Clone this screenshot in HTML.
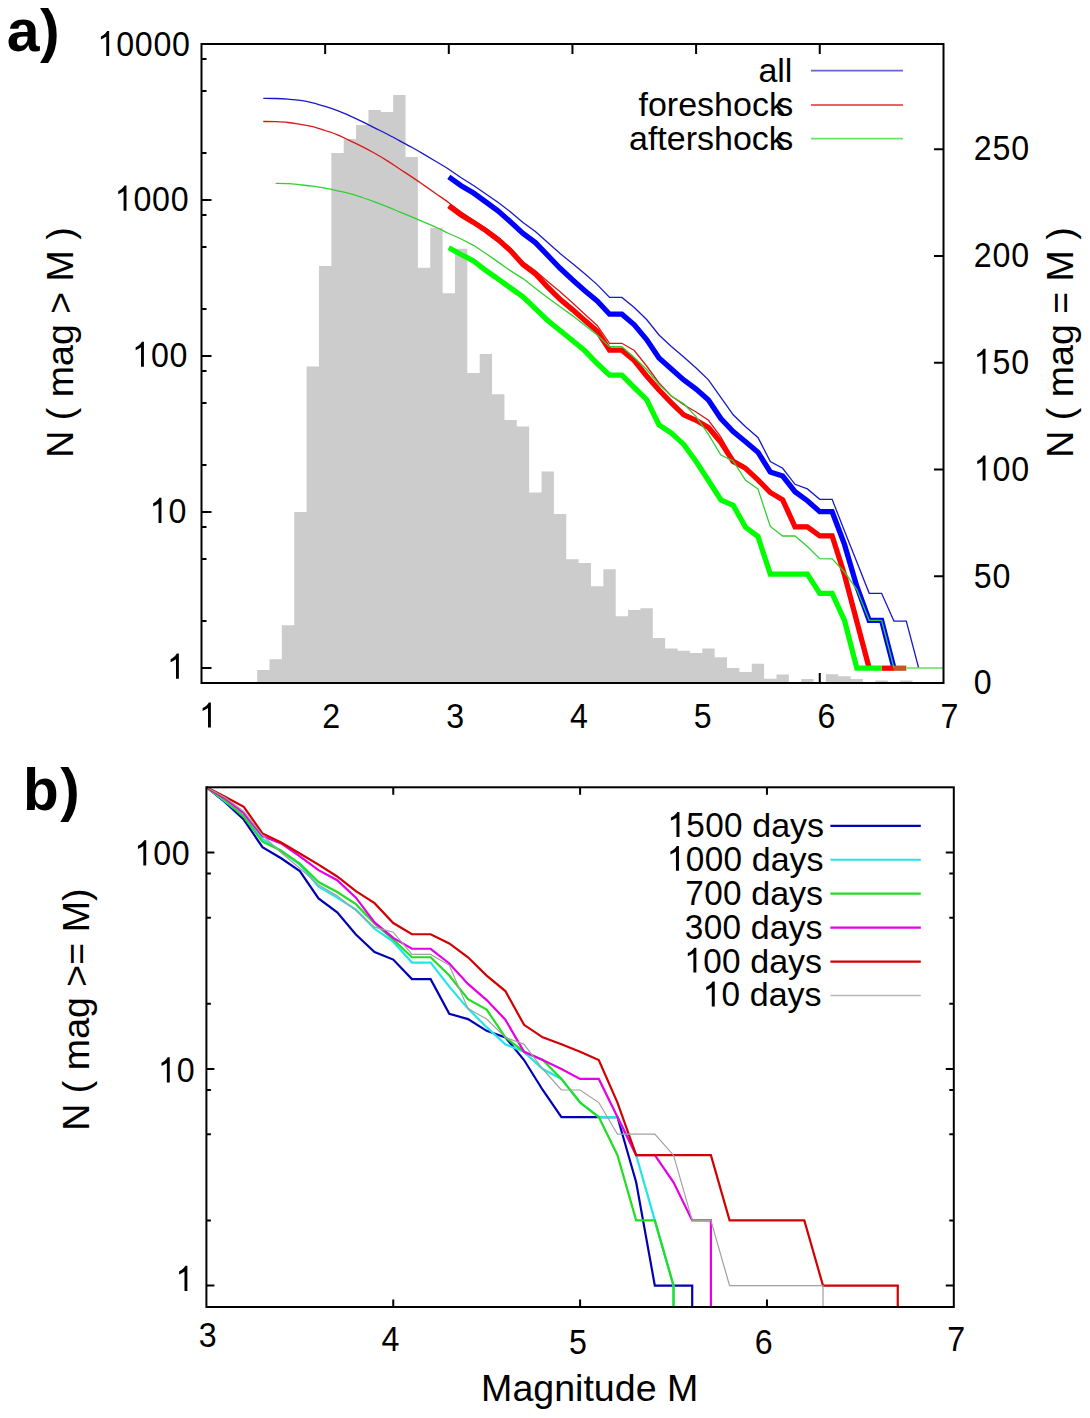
<!DOCTYPE html>
<html><head><meta charset="utf-8"><title>Magnitude distribution</title>
<style>html,body{margin:0;padding:0;background:#fff;}svg{display:block;}</style></head>
<body><svg width="1090" height="1418" viewBox="0 0 1090 1418">
<rect width="1090" height="1418" fill="#fff"/>
<path d="M325.15,683V673M448.80,683V673M572.45,683V673M696.10,683V673M819.75,683V673" stroke="#000" stroke-width="2" fill="none"/>
<path d="M257.14,683V670.1H269.51V683ZM269.51,683V659.3H281.87V683ZM281.87,683V625.2H294.24V683ZM294.24,683V512.1H306.60V683ZM306.60,683V366.5H318.97V683ZM318.97,683V266.1H331.33V683ZM331.33,683V152.9H343.70V683ZM343.70,683V139.1H356.06V683ZM356.06,683V125.1H368.43V683ZM368.43,683V110.0H380.79V683ZM380.79,683V112.0H393.16V683ZM393.16,683V95.1H405.52V683ZM405.52,683V157.1H417.89V683ZM417.89,683V267.7H430.25V683ZM430.25,683V227.8H442.62V683ZM442.62,683V293.2H454.98V683ZM454.98,683V248.7H467.35V683ZM467.35,683V373.1H479.71V683ZM479.71,683V354.1H492.08V683ZM492.08,683V394.2H504.44V683ZM504.44,683V420.1H516.81V683ZM516.81,683V426.4H529.17V683ZM529.17,683V492.4H541.54V683ZM541.54,683V471.4H553.90V683ZM553.90,683V514.0H566.27V683ZM566.27,683V559.2H578.63V683ZM578.63,683V563.0H591.00V683ZM591.00,683V586.3H603.36V683ZM603.36,683V569.3H615.73V683ZM615.73,683V616.3H628.09V683ZM628.09,683V610.1H640.46V683ZM640.46,683V608.2H652.82V683ZM652.82,683V637.9H665.19V683ZM665.19,683V648.6H677.55V683ZM677.55,683V650.8H689.92V683ZM689.92,683V653.1H702.28V683ZM702.28,683V648.6H714.65V683ZM714.65,683V657.2H727.01V683ZM727.01,683V667.9H739.38V683ZM739.38,683V672.1H751.74V683ZM751.74,683V663.8H764.11V683ZM764.11,683V678.8H776.47V683ZM776.47,683V674.5H788.84V683ZM801.20,683V679.0H813.57V683ZM825.93,683V674.3H838.30V683ZM838.30,683V676.3H850.66V683ZM850.66,683V679.0H863.03V683ZM875.39,683V680.4H887.76V683ZM900.12,683V680.4H912.49V683Z" fill="#cccccc" stroke="none"/>
<path d="M263.32,121.50 C265.39,121.53 271.57,121.53 275.69,121.70 C279.81,121.87 283.93,122.05 288.06,122.50 C292.18,122.95 296.30,123.72 300.42,124.40 C304.54,125.08 308.66,125.58 312.78,126.60 C316.91,127.62 321.03,129.13 325.15,130.50 C329.27,131.87 333.39,133.10 337.51,134.80 C341.64,136.50 345.76,138.72 349.88,140.70 C354.00,142.68 358.12,144.60 362.25,146.70 C366.37,148.80 370.49,150.98 374.61,153.30 C378.73,155.62 382.85,158.02 386.98,160.60 C391.10,163.18 395.22,166.08 399.34,168.80 C403.46,171.52 407.58,174.13 411.71,176.90 C415.83,179.67 419.95,182.55 424.07,185.40 C428.19,188.25 432.31,191.12 436.44,194.00 C440.56,196.88 444.68,199.70 448.80,202.70 L461.17,212.00 L473.53,220.30 L485.89,228.30 L498.26,237.30 L510.62,248.30 L522.99,261.80 L535.36,270.70 L547.72,281.50 L560.09,291.70 L572.45,302.80 L584.82,314.20 L597.18,325.50 L609.55,343.30 L621.91,343.30 L634.28,350.50 L646.64,366.00 L659.01,383.00 L671.37,396.00 L683.74,404.70 L696.10,412.00 L708.46,420.30 L720.83,436.80 L733.20,459.50 L745.56,466.50 L757.93,478.00 L770.29,491.00 L782.66,498.50 L795.02,525.50 L807.39,525.50 L819.75,534.50 L832.12,534.50" fill="none" stroke="#d81818" stroke-width="1.3" stroke-linejoin="miter"/>
<path d="M448.80,176.90 L461.17,185.70 L473.53,193.00 L485.89,202.00 L498.26,211.00 L510.62,222.00 L522.99,233.40 L535.36,242.60 L547.72,255.40 L560.09,268.30 L572.45,279.80 L584.82,290.70 L597.18,301.00 L609.55,314.20 L621.91,314.20 L634.28,324.80 L646.64,339.60 L659.01,358.00 L671.37,369.00 L683.74,379.90 L696.10,389.10 L708.46,400.10 L720.83,418.50 L733.20,431.50 L745.56,441.70 L757.93,452.20 L770.29,472.00 L782.66,476.10 L795.02,491.70 L807.39,500.70 L819.75,511.70 L832.12,511.70 L844.48,544.40 L856.85,586.50 L869.21,620.40 L881.58,620.40 L893.94,668.20" fill="none" stroke="#0000ff" stroke-width="5.3" stroke-linejoin="miter" stroke-miterlimit="4" />
<path d="M263.32,98.30 C265.39,98.33 271.57,98.35 275.69,98.50 C279.81,98.65 283.93,98.88 288.06,99.20 C292.18,99.52 296.30,99.80 300.42,100.40 C304.54,101.00 308.66,101.80 312.78,102.80 C316.91,103.80 321.03,105.10 325.15,106.40 C329.27,107.70 333.39,109.03 337.51,110.60 C341.64,112.17 345.76,113.97 349.88,115.80 C354.00,117.63 358.12,119.60 362.25,121.60 C366.37,123.60 370.49,125.73 374.61,127.80 C378.73,129.87 382.85,131.87 386.98,134.00 C391.10,136.13 395.22,138.38 399.34,140.60 C403.46,142.82 407.58,145.00 411.71,147.30 C415.83,149.60 419.95,151.98 424.07,154.40 C428.19,156.82 432.31,159.33 436.44,161.80 C440.56,164.27 444.68,166.55 448.80,169.20 L461.17,177.70 L473.53,185.50 L485.89,194.00 L498.26,202.50 L510.62,212.00 L522.99,222.40 L535.36,231.50 L547.72,242.50 L560.09,253.60 L572.45,263.50 L584.82,273.80 L597.18,284.60 L609.55,297.40 L621.91,297.40 L634.28,307.50 L646.64,319.50 L659.01,335.00 L671.37,346.50 L683.74,357.00 L696.10,368.00 L708.46,379.90 L720.83,397.30 L733.20,414.80 L745.56,426.70 L757.93,437.50 L770.29,461.50 L782.66,468.30 L795.02,484.30 L807.39,488.90 L819.75,499.30 L832.12,499.30 L844.48,531.00 L856.85,562.00 L869.21,593.30 L881.58,593.30 L893.94,621.10 L906.31,621.10 L918.67,668.00" fill="none" stroke="#1818c8" stroke-width="1.3" stroke-linejoin="miter"/>
<path d="M448.80,205.90 L461.17,215.00 L473.53,222.40 L485.89,230.60 L498.26,239.80 L510.62,250.80 L522.99,264.60 L535.36,273.80 L547.72,287.20 L560.09,299.30 L572.45,309.60 L584.82,320.40 L597.18,331.00 L609.55,350.20 L621.91,350.20 L634.28,360.50 L646.64,376.00 L659.01,390.00 L671.37,402.80 L683.74,414.80 L696.10,420.30 L708.46,427.50 L720.83,442.20 L733.20,461.40 L745.56,468.30 L757.93,479.80 L770.29,492.50 L782.66,499.80 L795.02,526.80 L807.39,526.80 L819.75,535.80 L832.12,535.80 L844.48,574.70 L856.85,621.60 L869.21,668.20" fill="none" stroke="#ff0000" stroke-width="5.3" stroke-linejoin="miter" stroke-miterlimit="4" />
<path d="M881.58,668.20 L893.94,668.20" fill="none" stroke="#ff0000" stroke-width="5.3" stroke-linejoin="miter" stroke-miterlimit="4" />
<path d="M893.94,668.20 L906.31,668.20" fill="none" stroke="#c8561e" stroke-width="5.3" stroke-linejoin="miter" stroke-miterlimit="4" />
<path d="M448.80,247.70 L461.17,254.50 L473.53,260.90 L485.89,270.50 L498.26,279.20 L510.62,288.00 L522.99,296.80 L535.36,308.60 L547.72,320.50 L560.09,330.50 L572.45,340.50 L584.82,350.80 L597.18,363.50 L609.55,375.20 L621.91,375.20 L634.28,387.50 L646.64,399.50 L659.01,424.90 L671.37,433.10 L683.74,444.40 L696.10,461.50 L708.46,480.50 L720.83,499.80 L733.20,505.30 L745.56,527.30 L757.93,536.50 L770.29,574.10 L782.66,574.10 L795.02,574.10 L807.39,574.10 L819.75,593.40 L832.12,593.40 L844.48,620.40 L856.85,668.20 L869.21,668.20 L881.58,668.20" fill="none" stroke="#00ff00" stroke-width="5.3" stroke-linejoin="miter" stroke-miterlimit="4" />
<path d="M275.69,183.30 C277.75,183.35 283.93,183.35 288.06,183.60 C292.18,183.85 296.30,184.37 300.42,184.80 C304.54,185.23 308.66,185.63 312.79,186.20 C316.91,186.77 321.03,187.43 325.15,188.20 C329.27,188.97 333.39,189.90 337.51,190.80 C341.64,191.70 345.76,192.48 349.88,193.60 C354.00,194.72 358.12,196.13 362.25,197.50 C366.37,198.87 370.49,200.28 374.61,201.80 C378.73,203.32 382.85,204.93 386.98,206.60 C391.10,208.27 395.22,210.08 399.34,211.80 C403.46,213.52 407.58,215.18 411.71,216.90 C415.83,218.62 419.95,220.33 424.07,222.10 C428.19,223.87 432.31,225.60 436.44,227.50 C440.56,229.40 444.68,231.58 448.80,233.50 L461.17,239.00 L473.53,245.30 L485.90,253.50 L498.26,262.10 L510.62,270.90 L522.99,278.60 L535.36,288.30 L547.72,297.70 L560.09,306.80 L572.45,315.60 L584.82,325.30 L597.18,335.00 L609.55,346.60 L621.91,346.60 L634.28,357.50 L646.64,369.50 L659.01,384.50 L671.37,396.00 L683.74,403.80 L696.10,416.60 L708.46,434.40 L720.83,455.00 L733.20,461.00 L745.56,480.30 L757.93,488.90 L770.29,526.40 L782.66,536.00 L795.02,536.00 L807.39,546.60 L819.75,558.60 L832.12,558.90 L844.48,572.00 L856.85,589.50 L869.21,620.40 L881.58,620.40 L893.94,668.00" fill="none" stroke="#30d030" stroke-width="1.3" stroke-linejoin="miter"/>
<path d="M906.31,668.00 L943.40,668.00" fill="none" stroke="#60e060" stroke-width="1.3" stroke-linejoin="miter" stroke-miterlimit="4" />
<g stroke="#000" stroke-width="2" fill="none">
<rect x="201.5" y="44" width="742" height="639"/>
<path d="M325.15,44V54M448.80,44V54M572.45,44V54M696.10,44V54M819.75,44V54M201.5,668.00H211.5M201.5,621.04H206.5M201.5,558.96H206.5M201.5,527.12H206.5M201.5,512.00H211.5M201.5,465.04H206.5M201.5,402.96H206.5M201.5,371.12H206.5M201.5,356.00H211.5M201.5,309.04H206.5M201.5,246.96H206.5M201.5,215.12H206.5M201.5,200.00H211.5M201.5,153.04H206.5M201.5,90.96H206.5M201.5,59.12H206.5M201.5,44.00H211.5M943.5,683.00H934M943.5,576.25H934M943.5,469.50H934M943.5,362.75H934M943.5,256.00H934M943.5,149.25H934"/>
</g>
<g font-family='"Liberation Sans", sans-serif' fill="#000" style="font-kerning:none">
<text x="758.38" y="82.00" font-size="34.0">all</text>
<text x="638.50" y="115.90" font-size="34.0">foreshock</text>
<text x="776.15" y="115.90" font-size="34.0">s</text>
<text x="629.00" y="150.00" font-size="34.0">aftershock</text>
<text x="776.15" y="150.00" font-size="34.0">s</text>
</g>
<path d="M811,70.6H903" stroke="#6464dc" stroke-width="1.8"/>
<path d="M811,105H903" stroke="#e66464" stroke-width="1.8"/>
<path d="M811,138.6H903" stroke="#64e664" stroke-width="1.8"/>
<g font-family='"Liberation Sans", sans-serif' fill="#000" style="font-kerning:none">
<path d="M0.272,0L0.362,0L0.362,0.703L0.298,0.703C0.255,0.63 0.19,0.58 0.105,0.548L0.105,0.462C0.17,0.485 0.23,0.515 0.272,0.545Z" transform="translate(97.52,56.00) scale(32.160,-35.677)"/><text transform="translate(116.15,56.00) scale(0.96,1.065)" font-size="33.5">0</text><text transform="translate(134.78,56.00) scale(0.96,1.065)" font-size="33.5">0</text><text transform="translate(153.41,56.00) scale(0.96,1.065)" font-size="33.5">0</text><text transform="translate(172.04,56.00) scale(0.96,1.065)" font-size="33.5">0</text>
<path d="M0.272,0L0.362,0L0.362,0.703L0.298,0.703C0.255,0.63 0.19,0.58 0.105,0.548L0.105,0.462C0.17,0.485 0.23,0.515 0.272,0.545Z" transform="translate(114.85,210.70) scale(32.160,-35.677)"/><text transform="translate(133.48,210.70) scale(0.96,1.065)" font-size="33.5">0</text><text transform="translate(152.11,210.70) scale(0.96,1.065)" font-size="33.5">0</text><text transform="translate(170.74,210.70) scale(0.96,1.065)" font-size="33.5">0</text>
<path d="M0.272,0L0.362,0L0.362,0.703L0.298,0.703C0.255,0.63 0.19,0.58 0.105,0.548L0.105,0.462C0.17,0.485 0.23,0.515 0.272,0.545Z" transform="translate(132.28,366.80) scale(32.160,-35.677)"/><text transform="translate(150.91,366.80) scale(0.96,1.065)" font-size="33.5">0</text><text transform="translate(169.54,366.80) scale(0.96,1.065)" font-size="33.5">0</text>
<path d="M0.272,0L0.362,0L0.362,0.703L0.298,0.703C0.255,0.63 0.19,0.58 0.105,0.548L0.105,0.462C0.17,0.485 0.23,0.515 0.272,0.545Z" transform="translate(149.81,522.90) scale(32.160,-35.677)"/><text transform="translate(168.44,522.90) scale(0.96,1.065)" font-size="33.5">0</text>
<path d="M0.272,0L0.362,0L0.362,0.703L0.298,0.703C0.255,0.63 0.19,0.58 0.105,0.548L0.105,0.462C0.17,0.485 0.23,0.515 0.272,0.545Z" transform="translate(167.24,678.70) scale(32.160,-35.677)"/>
<text transform="translate(973.87,694.10) scale(0.96,1.065)" font-size="33.5">0</text>
<text transform="translate(973.87,587.70) scale(0.96,1.065)" font-size="33.5">5</text><text transform="translate(992.50,587.70) scale(0.96,1.065)" font-size="33.5">0</text>
<path d="M0.272,0L0.362,0L0.362,0.703L0.298,0.703C0.255,0.63 0.19,0.58 0.105,0.548L0.105,0.462C0.17,0.485 0.23,0.515 0.272,0.545Z" transform="translate(973.87,480.60) scale(32.160,-35.677)"/><text transform="translate(992.50,480.60) scale(0.96,1.065)" font-size="33.5">0</text><text transform="translate(1011.13,480.60) scale(0.96,1.065)" font-size="33.5">0</text>
<path d="M0.272,0L0.362,0L0.362,0.703L0.298,0.703C0.255,0.63 0.19,0.58 0.105,0.548L0.105,0.462C0.17,0.485 0.23,0.515 0.272,0.545Z" transform="translate(973.87,373.80) scale(32.160,-35.677)"/><text transform="translate(992.50,373.80) scale(0.96,1.065)" font-size="33.5">5</text><text transform="translate(1011.13,373.80) scale(0.96,1.065)" font-size="33.5">0</text>
<text transform="translate(973.87,266.60) scale(0.96,1.065)" font-size="33.5">2</text><text transform="translate(992.50,266.60) scale(0.96,1.065)" font-size="33.5">0</text><text transform="translate(1011.13,266.60) scale(0.96,1.065)" font-size="33.5">0</text>
<text transform="translate(973.87,159.70) scale(0.96,1.065)" font-size="33.5">2</text><text transform="translate(992.50,159.70) scale(0.96,1.065)" font-size="33.5">5</text><text transform="translate(1011.13,159.70) scale(0.96,1.065)" font-size="33.5">0</text>
<path d="M0.272,0L0.362,0L0.362,0.703L0.298,0.703C0.255,0.63 0.19,0.58 0.105,0.548L0.105,0.462C0.17,0.485 0.23,0.515 0.272,0.545Z" transform="translate(199.26,727.50) scale(32.160,-35.677)"/>
<text transform="translate(322.16,727.50) scale(0.96,1.065)" font-size="33.5">2</text>
<text transform="translate(446.36,727.50) scale(0.96,1.065)" font-size="33.5">3</text>
<text transform="translate(570.06,727.50) scale(0.96,1.065)" font-size="33.5">4</text>
<text transform="translate(693.76,727.50) scale(0.96,1.065)" font-size="33.5">5</text>
<text transform="translate(817.46,727.50) scale(0.96,1.065)" font-size="33.5">6</text>
<text transform="translate(940.56,727.50) scale(0.96,1.065)" font-size="33.5">7</text>
</g>
<text font-family='"Liberation Sans", sans-serif' font-size="37.6" transform="translate(73.2,342.5) rotate(-90)" text-anchor="middle">N ( mag &gt; M )</text>
<text font-family='"Liberation Sans", sans-serif' font-size="37.6" transform="translate(1073.2,342.5) rotate(-90)" text-anchor="middle">N ( mag = M )</text>
<text font-family='"Liberation Sans", sans-serif' font-size="59" font-weight="bold" x="6.7" y="51.3">a</text>
<text font-family='"Liberation Sans", sans-serif' font-size="59" font-weight="bold" x="40.1" y="51.3">)</text>
<g fill="none" stroke-linejoin="miter">
<path d="M206.40,787.20 L225.09,802.15 L243.77,819.55 L262.45,847.19 L281.14,858.22 L299.82,871.07 L318.51,898.44 L337.20,912.30 L355.88,934.45 L374.56,951.96 L393.25,959.58 L411.93,979.12 L430.62,979.12 L449.30,1013.71 L467.99,1019.08 L486.67,1030.86 L505.36,1037.35 L524.05,1060.03 L542.73,1089.99 L561.42,1117.05 L580.10,1117.05 L598.78,1117.05 L617.47,1117.05 L636.16,1182.26 L654.84,1285.60 L673.52,1285.60 L692.21,1285.60 L692.21,1307.00" fill="none" stroke="#0000b4" stroke-width="2.2" stroke-linejoin="miter" stroke-miterlimit="4" />
<path d="M206.40,787.20 L225.09,801.28 L243.77,815.97 L262.45,838.93 L281.14,850.81 L299.82,864.64 L318.51,886.63 L337.20,897.67 L355.88,909.67 L374.56,928.78 L393.25,941.70 L411.93,962.57 L430.62,962.57 L449.30,986.65 L467.99,1008.62 L486.67,1027.17 L505.36,1044.32 L524.05,1051.85 L542.73,1069.00 L561.42,1078.91 L580.10,1102.55 L598.78,1117.05 L617.47,1117.05 L636.16,1155.19 L654.84,1220.40 L673.52,1285.60 L673.52,1307.00" fill="none" stroke="#22e6e6" stroke-width="2.2" stroke-linejoin="miter" stroke-miterlimit="4" />
<path d="M206.40,787.20 L225.09,800.35 L243.77,816.87 L262.45,841.74 L281.14,850.81 L299.82,863.68 L318.51,882.00 L337.20,892.06 L355.88,904.13 L374.56,923.42 L393.25,939.54 L411.93,957.26 L430.62,957.26 L449.30,975.57 L467.99,999.21 L486.67,1009.62 L505.36,1037.35 L524.05,1051.85 L542.73,1060.03 L561.42,1078.91 L580.10,1102.55 L598.78,1117.05 L617.47,1155.19 L636.16,1220.40 L654.84,1220.40 L673.52,1285.60 L673.52,1307.00" fill="none" stroke="#22dd22" stroke-width="2.2" stroke-linejoin="miter" stroke-miterlimit="4" />
<path d="M206.40,787.20 L225.09,798.48 L243.77,813.20 L262.45,836.19 L281.14,843.43 L299.82,856.34 L318.51,870.15 L337.20,880.22 L355.88,897.67 L374.56,922.43 L393.25,937.89 L411.93,948.77 L430.62,948.77 L449.30,963.49 L467.99,983.94 L486.67,1000.11 L505.36,1019.64 L524.05,1051.85 L542.73,1060.03 L561.42,1069.00 L580.10,1078.91 L598.78,1078.91 L617.47,1117.05 L636.16,1155.19 L654.84,1155.19 L673.52,1182.26 L692.21,1220.40 L710.89,1220.40 L710.89,1307.00" fill="none" stroke="#e600e6" stroke-width="2.2" stroke-linejoin="miter" stroke-miterlimit="4" />
<path d="M206.40,787.20 L225.09,796.69 L243.77,806.79 L262.45,833.39 L281.14,842.58 L299.82,853.54 L318.51,864.64 L337.20,876.50 L355.88,891.20 L374.56,903.16 L393.25,923.02 L411.93,934.23 L430.62,934.23 L449.30,943.42 L467.99,957.26 L486.67,975.57 L505.36,991.06 L524.05,1024.79 L542.73,1037.35 L561.42,1044.32 L580.10,1051.85 L598.78,1060.03 L617.47,1102.55 L636.16,1155.19 L654.84,1155.19 L673.52,1155.19 L692.21,1155.19 L710.89,1155.19 L729.58,1220.40 L748.26,1220.40 L766.95,1220.40 L785.63,1220.40 L804.32,1220.40 L823.01,1285.60 L841.69,1285.60 L860.38,1285.60 L879.06,1285.60 L897.75,1285.60 L897.75,1307.00" fill="none" stroke="#d20000" stroke-width="2.2" stroke-linejoin="miter" stroke-miterlimit="4" />
<path d="M206.40,787.20 L225.09,797.58 L243.77,811.36 L262.45,835.17 L281.14,852.68 L299.82,868.24 L318.51,884.88 L337.20,895.86 L355.88,910.54 L374.56,927.10 L393.25,932.23 L411.93,954.44 L430.62,954.44 L449.30,965.34 L467.99,1008.62 L486.67,1019.08 L505.36,1037.35 L524.05,1044.32 L542.73,1069.00 L561.42,1089.99 L580.10,1089.99 L598.78,1102.55 L617.47,1134.20 L636.16,1134.20 L654.84,1134.20 L673.52,1155.19 L692.21,1220.40 L710.89,1220.40 L729.58,1285.60 L748.26,1285.60 L766.95,1285.60 L785.63,1285.60 L804.32,1285.60 L823.01,1285.60 L823.00,1307.00" fill="none" stroke="#a0a0a0" stroke-width="1.2" stroke-linejoin="miter" stroke-miterlimit="4" />
</g>
<g stroke="#000" stroke-width="2" fill="none">
<rect x="206.4" y="787.3" width="747.4" height="519.7"/>
<path d="M393.25,787.3V794.8M393.25,1307V1299.5M580.10,787.3V794.8M580.10,1307V1299.5M766.95,787.3V794.8M766.95,1307V1299.5M206.4,1285.60H214.4M953.8,1285.60H945.8M206.4,1220.43H210.9M953.8,1220.43H949.3M206.4,1134.27H210.9M953.8,1134.27H949.3M206.4,1090.08H210.9M953.8,1090.08H949.3M206.4,1069.00H214.4M953.8,1069.00H945.8M206.4,1003.83H210.9M953.8,1003.83H949.3M206.4,917.67H210.9M953.8,917.67H949.3M206.4,873.48H210.9M953.8,873.48H949.3M206.4,852.40H214.4M953.8,852.40H945.8"/>
</g>
<g font-family='"Liberation Sans", sans-serif' fill="#000" style="font-kerning:none">
<path d="M0.272,0L0.362,0L0.362,0.703L0.298,0.703C0.255,0.63 0.19,0.58 0.105,0.548L0.105,0.462C0.17,0.485 0.23,0.515 0.272,0.545Z" transform="translate(134.58,865.40) scale(32.160,-35.677)"/><text transform="translate(153.21,865.40) scale(0.96,1.065)" font-size="33.5">0</text><text transform="translate(171.84,865.40) scale(0.96,1.065)" font-size="33.5">0</text>
<path d="M0.272,0L0.362,0L0.362,0.703L0.298,0.703C0.255,0.63 0.19,0.58 0.105,0.548L0.105,0.462C0.17,0.485 0.23,0.515 0.272,0.545Z" transform="translate(158.11,1082.40) scale(32.160,-35.677)"/><text transform="translate(176.74,1082.40) scale(0.96,1.065)" font-size="33.5">0</text>
<path d="M0.272,0L0.362,0L0.362,0.703L0.298,0.703C0.255,0.63 0.19,0.58 0.105,0.548L0.105,0.462C0.17,0.485 0.23,0.515 0.272,0.545Z" transform="translate(175.74,1290.90) scale(32.160,-35.677)"/>
<text transform="translate(198.86,1347.00) scale(0.96,1.065)" font-size="33.5">3</text>
<text transform="translate(381.61,1351.10) scale(0.96,1.065)" font-size="33.5">4</text>
<text transform="translate(568.96,1354.30) scale(0.96,1.065)" font-size="33.5">5</text>
<text transform="translate(754.86,1354.40) scale(0.96,1.065)" font-size="33.5">6</text>
<text transform="translate(947.21,1351.10) scale(0.96,1.065)" font-size="33.5">7</text>
</g>
<text font-family='"Liberation Sans", sans-serif' font-size="37.6" x="589.7" y="1401" text-anchor="middle">Magnitude M</text>
<text font-family='"Liberation Sans", sans-serif' font-size="37.6" transform="translate(88.5,1009.6) rotate(-90)" text-anchor="middle">N ( mag &gt;= M)</text>
<text font-family='"Liberation Sans", sans-serif' font-size="58.5" font-weight="bold" x="23" y="809.5">b</text>
<text font-family='"Liberation Sans", sans-serif' font-size="58.5" font-weight="bold" x="60.3" y="809.5">)</text>
<g font-family='"Liberation Sans", sans-serif' fill="#000" style="font-kerning:none">
<path d="M0.272,0L0.362,0L0.362,0.703L0.298,0.703C0.255,0.63 0.19,0.58 0.105,0.548L0.105,0.462C0.17,0.485 0.23,0.515 0.272,0.545Z" transform="translate(667.39,836.90) scale(33.320,-35.360)"/><text transform="translate(686.30,836.90) scale(0.98,1.04)" font-size="34.0">5</text><text transform="translate(705.21,836.90) scale(0.98,1.04)" font-size="34.0">0</text><text transform="translate(724.12,836.90) scale(0.98,1.04)" font-size="34.0">0</text><text x="752.28" y="836.90" font-size="34.0">days</text>
<path d="M0.272,0L0.362,0L0.362,0.703L0.298,0.703C0.255,0.63 0.19,0.58 0.105,0.548L0.105,0.462C0.17,0.485 0.23,0.515 0.272,0.545Z" transform="translate(666.89,870.80) scale(33.320,-35.360)"/><text transform="translate(685.80,870.80) scale(0.98,1.04)" font-size="34.0">0</text><text transform="translate(704.71,870.80) scale(0.98,1.04)" font-size="34.0">0</text><text transform="translate(723.62,870.80) scale(0.98,1.04)" font-size="34.0">0</text><text x="751.78" y="870.80" font-size="34.0">days</text>
<text transform="translate(685.30,904.70) scale(0.98,1.04)" font-size="34.0">7</text><text transform="translate(704.21,904.70) scale(0.98,1.04)" font-size="34.0">0</text><text transform="translate(723.12,904.70) scale(0.98,1.04)" font-size="34.0">0</text><text x="751.28" y="904.70" font-size="34.0">days</text>
<text transform="translate(684.80,938.60) scale(0.98,1.04)" font-size="34.0">3</text><text transform="translate(703.71,938.60) scale(0.98,1.04)" font-size="34.0">0</text><text transform="translate(722.62,938.60) scale(0.98,1.04)" font-size="34.0">0</text><text x="750.78" y="938.60" font-size="34.0">days</text>
<path d="M0.272,0L0.362,0L0.362,0.703L0.298,0.703C0.255,0.63 0.19,0.58 0.105,0.548L0.105,0.462C0.17,0.485 0.23,0.515 0.272,0.545Z" transform="translate(684.30,972.50) scale(33.320,-35.360)"/><text transform="translate(703.21,972.50) scale(0.98,1.04)" font-size="34.0">0</text><text transform="translate(722.12,972.50) scale(0.98,1.04)" font-size="34.0">0</text><text x="750.28" y="972.50" font-size="34.0">days</text>
<path d="M0.272,0L0.362,0L0.362,0.703L0.298,0.703C0.255,0.63 0.19,0.58 0.105,0.548L0.105,0.462C0.17,0.485 0.23,0.515 0.272,0.545Z" transform="translate(702.71,1006.40) scale(33.320,-35.360)"/><text transform="translate(721.62,1006.40) scale(0.98,1.04)" font-size="34.0">0</text><text x="749.78" y="1006.40" font-size="34.0">days</text>
</g>
<path d="M830.4,825.80H920.8" stroke="#0000b4" stroke-width="2.2"/>
<path d="M830.4,859.75H920.8" stroke="#22e6e6" stroke-width="2.2"/>
<path d="M830.4,893.70H920.8" stroke="#22dd22" stroke-width="2.2"/>
<path d="M830.4,927.65H920.8" stroke="#e600e6" stroke-width="2.2"/>
<path d="M830.4,961.60H920.8" stroke="#d20000" stroke-width="2.2"/>
<path d="M830.4,995.55H920.8" stroke="#b8b8b8" stroke-width="1.6"/>
</svg></body></html>
